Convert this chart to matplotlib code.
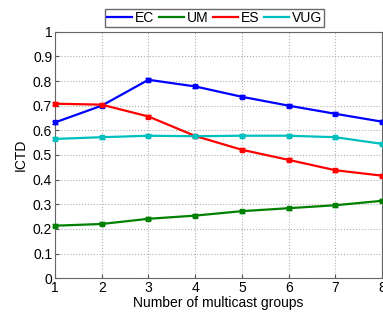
import matplotlib
matplotlib.use("Agg")
import matplotlib.pyplot as plt

plt.rcParams['font.family'] = ['Liberation Sans', 'DejaVu Sans']

groups = [1, 2, 3, 4, 5, 6, 7, 8]
ec = [0.632, 0.700, 0.805, 0.778, 0.736, 0.700, 0.667, 0.635]
um = [0.213, 0.220, 0.241, 0.254, 0.272, 0.284, 0.296, 0.314]
es = [0.708, 0.704, 0.656, 0.577, 0.521, 0.480, 0.438, 0.416]
vug = [0.565, 0.572, 0.578, 0.576, 0.578, 0.578, 0.572, 0.545]
err = 0.006

series = [("EC", ec, (0, 0, 1)), ("UM", um, (0, 0.5, 0)),
          ("ES", es, (1, 0, 0)), ("VUG", vug, (0, 0.75, 0.75))]

fig = plt.figure(figsize=(3.83, 3.14), dpi=100)
ax = fig.add_axes([0.1436, 0.114, 0.854, 0.785])

handles = []
for name, vals, c in series:
    ax.errorbar(groups, vals, yerr=err, color=c, lw=1.6, marker='s', ms=3.5,
                capsize=2, elinewidth=1, clip_on=False, zorder=3)
    h, = ax.plot([], [], color=c, lw=1.6, label=name)
    handles.append(h)

ax.set_xlim(1, 8)
ax.set_ylim(0, 1)
ax.set_xticks(groups)
ax.set_yticks([i / 10 for i in range(11)])
ax.set_yticklabels(['0', '0.1', '0.2', '0.3', '0.4', '0.5', '0.6', '0.7', '0.8', '0.9', '1'])
ax.grid(True, linestyle=':', color='#b0b0b0', lw=0.8)
ax.tick_params(labelsize=10, direction='in', length=3, color='#555555', pad=2)
for s in ax.spines.values():
    s.set_color('#666666')
    s.set_linewidth(0.8)
ax.set_xlabel('Number of multicast groups', fontsize=10, labelpad=1)
ax.set_ylabel('ICTD', fontsize=10, labelpad=4)

fig.legend(handles=handles, loc='center', bbox_to_anchor=(0.560, 0.944), ncol=4,
           fontsize=10, frameon=True, fancybox=False, edgecolor='#444444',
           handlelength=1.8, handletextpad=0.2, columnspacing=0.35,
           borderpad=0.15, borderaxespad=0)

fig.savefig('out.png', dpi=100)
